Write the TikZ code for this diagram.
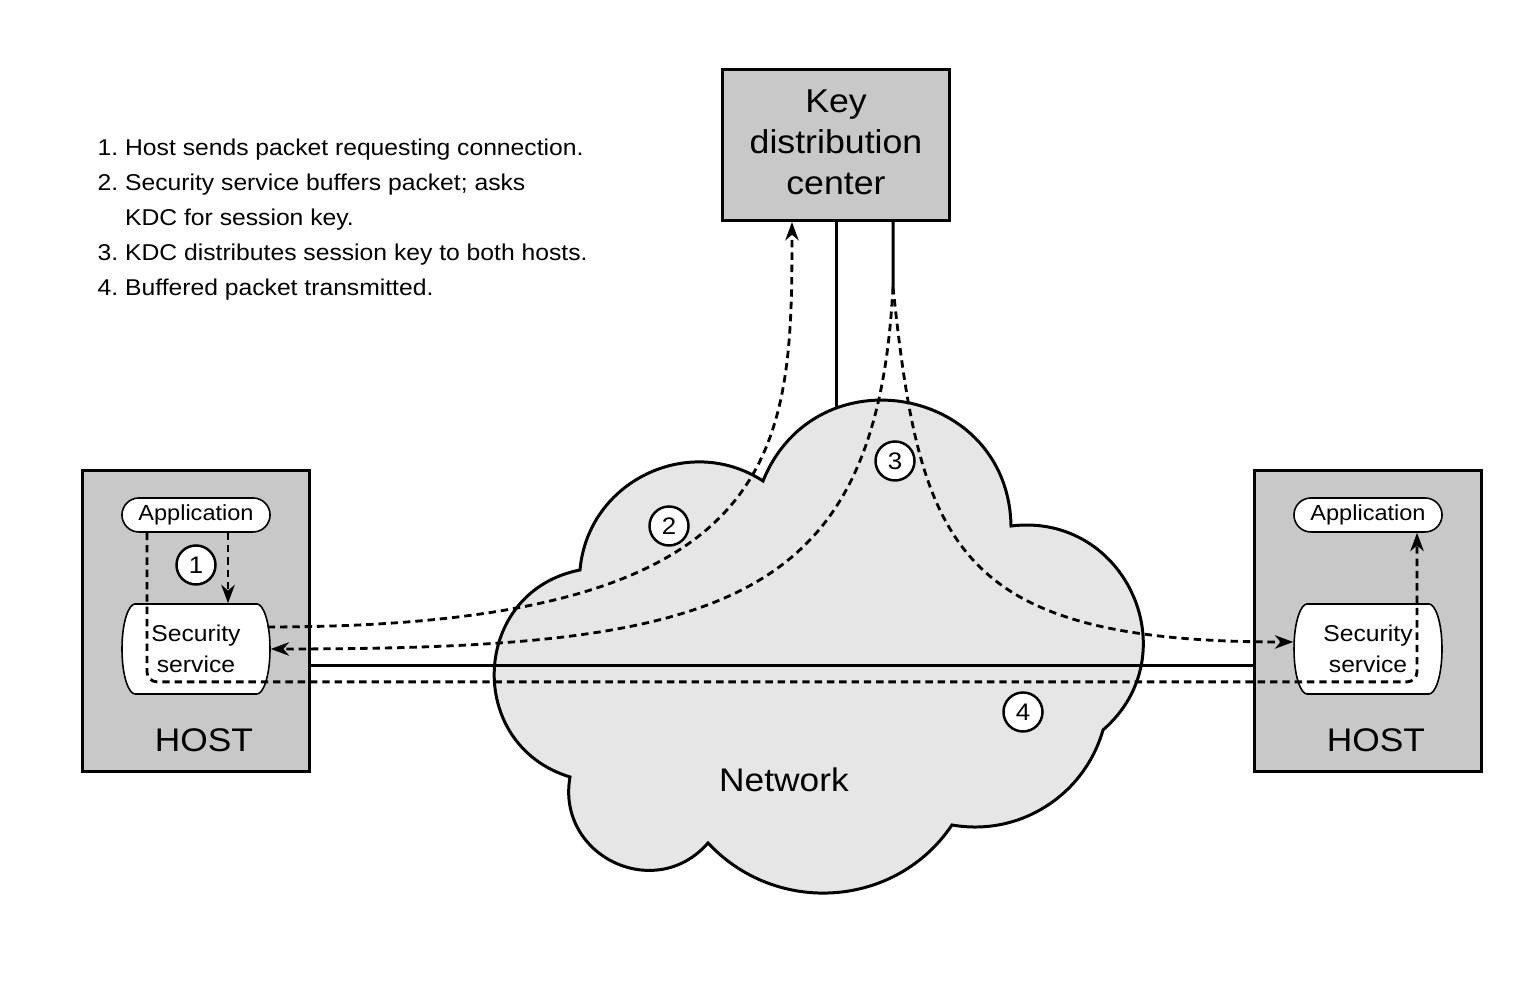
\documentclass[tikz,border=0pt]{standalone}
\usepackage{fontspec}
\setmainfont{Liberation Sans}[FakeStretch=1.08]
\usetikzlibrary{arrows.meta,shapes.misc}
\definecolor{boxgray}{RGB}{200,200,200}
\definecolor{cloudgray}{RGB}{230,230,230}
\frenchspacing

\begin{document}
\begin{tikzpicture}[x=0.01cm,y=0.01cm,
    hostbox/.style={draw,line width=0.85pt,fill=boxgray,minimum width=2.26cm,minimum height=3cm,inner sep=0},
    kdcbox/.style={draw,line width=0.85pt,fill=boxgray,minimum width=2.26cm,minimum height=1.51cm,text depth=1.7pt,align=center,font=\fontsize{9.4}{11.7}\selectfont},
    appbox/.style={draw,line width=0.45pt,fill=white,rounded rectangle,minimum width=1.48cm,minimum height=0.34cm,inner sep=0,font=\fontsize{6.2}{7.5}\selectfont},
    secbox/.style={minimum width=1.48cm,minimum height=0.9cm,inner sep=0,align=center,font=\fontsize{6.5}{8.8}\selectfont},
    secshape/.pic={\draw[line width=0.45pt,fill=white] (-61,45) -- (61,45)
      .. controls (67,45) and (74,28) .. (74,0) .. controls (74,-28) and (67,-45) .. (61,-45)
      -- (-61,-45) .. controls (-67,-45) and (-74,-28) .. (-74,0)
      .. controls (-74,28) and (-67,45) .. (-61,45) -- cycle;},
    stepnum/.style={draw,circle,line width=0.7pt,fill=white,minimum size=0.39cm,inner sep=0,font=\fontsize{6.8}{7}\selectfont},
    bigtext/.style={font=\fontsize{9.3}{11}\selectfont},
    wire/.style={line width=0.85pt},
    flow/.style={line width=0.8pt,dash pattern=on 2.1pt off 1.4pt},
    >={Stealth[length=5.2pt,width=3.8pt,inset=1.6pt]}]
  \useasboundingbox (0,0) rectangle (1524,995);

  % steps
  \node[anchor=north west,inner sep=0,align=left,font=\fontsize{6.5}{9.96}\selectfont] (steps) at (97,857)
    {1. Host sends packet requesting connection.\\
     2. Security service buffers packet; asks\\
     \phantom{2.}\ KDC for session key.\\
     3. KDC distributes session key to both hosts.\\
     4. Buffered packet transmitted.};

  \node[hostbox] (lhost) at (196,374) {};
  \node[hostbox] (rhost) at (1368,374) {};
  \node[kdcbox] (kdc) at (836,850) {Key\\distribution\\center};

  % network cloud
  \coordinate (n1) at (580,425);
  \coordinate (n2) at (763,514);
  \coordinate (n3) at (1011,469);
  \coordinate (n4) at (1103,265);
  \coordinate (n5) at (952,170);
  \coordinate (n6) at (708,152);
  \coordinate (n7) at (570,218);
  \draw[line width=0.85pt,fill=cloudgray] (n7)
    to[out=163,in=191,looseness=1.37] (n1)
    to[out=85,in=147,looseness=1.12] (n2)
    to[out=68,in=91,looseness=1.42] (n3)
    to[out=7,in=41,looseness=1.32] (n4)
    to[out=254,in=350,looseness=0.98] (n5)
    to[out=236,in=313,looseness=1.05] (n6)
    to[out=229,in=260,looseness=1.34] (n7) -- cycle;
  \node[bigtext] (net) at (784,215) {Network};

  \coordinate (ctop) at (836,587);
  \coordinate (split) at (893,708);
  \draw[wire] ([yshift=-4.4mm]lhost.east) -- ([yshift=-4.4mm]rhost.west);
  \draw[wire] (kdc.south) -- (ctop);
  \draw[wire] ([xshift=5.7mm]kdc.south) -- (split);

  \node[appbox] (lapp) at (196,480) {Application};
  \pic at (196,346) {secshape};
  \node[secbox] (lsec) at (196,346) {Security\\service};
  \node[appbox] (rapp) at (1368,480) {Application};
  \pic at (1368,346) {secshape};
  \node[secbox] (rsec) at (1368,346) {Security\\service};
  \node[bigtext] (lname) at (204,255) {HOST};
  \node[bigtext] (rname) at (1376,255) {HOST};

  % flows
  \draw[flow,->] ([xshift=3.2mm]lapp.south) -- ([xshift=3.2mm]lsec.north);
  \draw[flow,->] ([xshift=-0.3mm,yshift=2.2mm]lsec.east) .. controls +(0:520) and +(270:230) .. ([xshift=-4.4mm]kdc.south);
  \draw[flow,->] (split) .. controls +(267:320) and +(0:450) .. (lsec.east);
  \draw[flow,->] (split) .. controls +(276:260) and +(180:340) .. ([yshift=0.7mm]rsec.west);
  \draw[flow,->,rounded corners=1mm] ([xshift=-4.9mm]lapp.south)
    |- ([xshift=4.9mm,yshift=-1.49cm]rapp.south) -- ([xshift=4.9mm]rapp.south);

  \node[stepnum] (s1) at (196,430) {1};
  \node[stepnum] (s2) at (669,469) {2};
  \node[stepnum] (s3) at (895,534) {3};
  \node[stepnum] (s4) at (1023,283) {4};
\end{tikzpicture}
\end{document}
